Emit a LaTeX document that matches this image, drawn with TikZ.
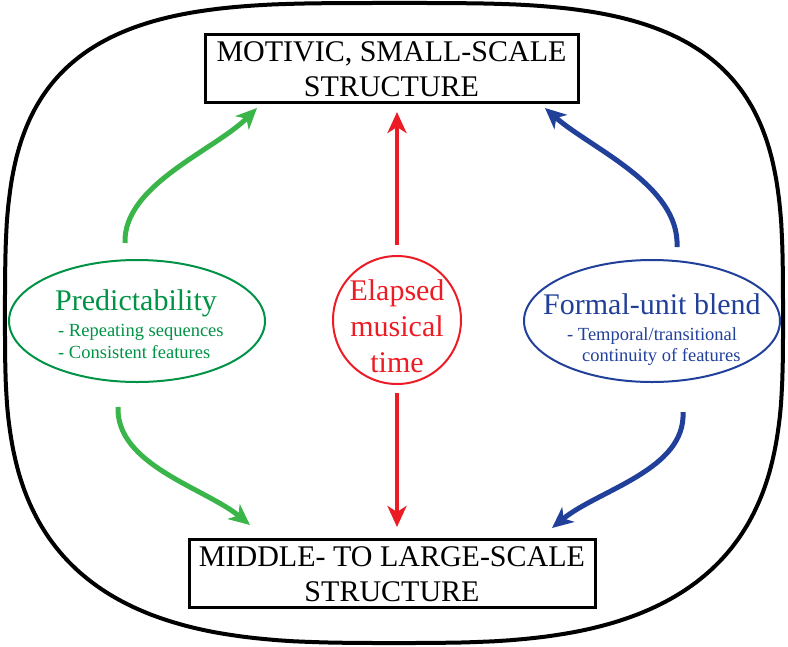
\documentclass[tikz,border=0pt]{standalone}
\usepackage{fontspec}
\setmainfont{Liberation Serif}
\usetikzlibrary{arrows.meta,shapes.geometric}
\definecolor{garrow}{RGB}{57,181,74}
\definecolor{gtext}{RGB}{0,146,69}
\definecolor{rcol}{RGB}{237,28,36}
\definecolor{bcol}{RGB}{33,64,154}
\tikzset{
  outerline/.style={line width=4pt, black},
  boxnode/.style={draw=black, line width=3pt, rectangle, inner sep=0pt},
  boxtext/.style={font=\fontsize{30}{30}\selectfont, anchor=base, inner sep=0pt},
  bigtext/.style={font=\fontsize{30}{30}\selectfont, inner sep=0pt},
  smalltext/.style={font=\fontsize{18.5}{18.5}\selectfont, inner sep=0pt, anchor=base west},
  tipstyle/.style={-{Stealth[length=21pt,width=19pt,inset=6pt]}},
  garr/.style={tipstyle, draw=garrow, line width=5pt},
  barr/.style={tipstyle, draw=bcol, line width=5pt},
  rarr/.style={tipstyle, draw=rcol, line width=4.5pt},
}
\begin{document}
\begin{tikzpicture}[x=1pt,y=-1pt]
\useasboundingbox (0,0) rectangle (788,646);
% outer rounded frame (superellipse)
\def\pt{0.5714}
\def\pb{0.6667}
\draw[outerline]
  plot[domain=0.2:89.8, samples=90] ({394-389*pow(cos(\x),\pt)}, {323-320*pow(sin(\x),\pt)})
  -- plot[domain=0.2:89.8, samples=90] ({394+389*pow(sin(\x),\pt)}, {323-320*pow(cos(\x),\pt)})
  -- plot[domain=0.2:89.8, samples=90] ({394+389*pow(cos(\x),\pb)}, {323+320*pow(sin(\x),\pb)})
  -- plot[domain=0.2:89.8, samples=90] ({394-389*pow(sin(\x),\pb)}, {323+320*pow(cos(\x),\pb)})
  -- cycle;

% boxes
\node[boxnode, minimum width=373pt, minimum height=68pt] (topbox) at (391.5,68) {};
\node[boxtext] (toplineA) at (391.5,61) {MOTIVIC, SMALL-SCALE};
\node[boxtext] (toplineB) at (391.5,96) {STRUCTURE};

\node[boxnode, minimum width=406pt, minimum height=68pt] (botbox) at (392,573) {};
\node[boxtext] (botlineA) at (392,566) {MIDDLE- TO LARGE-SCALE};
\node[boxtext] (botlineB) at (392,601) {STRUCTURE};

% ellipses and circle
\node[draw=gtext, line width=2pt, ellipse, minimum width=256pt, minimum height=122pt, inner sep=0pt] (pred) at (137,321) {};
\node[bigtext, text=gtext, anchor=base west] (predA) at (55,310) {Predictability};
\node[smalltext, text=gtext] (predB) at (58,336) {- Repeating sequences};
\node[smalltext, text=gtext] (predC) at (58,358) {- Consistent features};

\node[draw=rcol, line width=2pt, circle, minimum size=128pt, inner sep=0pt] (time) at (397,320) {};
\node[bigtext, text=rcol, anchor=base] (timeA) at (397,300) {Elapsed};
\node[bigtext, text=rcol, anchor=base] (timeB) at (397,336) {musical};
\node[bigtext, text=rcol, anchor=base] (timeC) at (397,372) {time};

\node[draw=bcol, line width=2pt, ellipse, minimum width=256pt, minimum height=122pt, inner sep=0pt] (blend) at (652,321) {};
\node[bigtext, text=bcol, anchor=base west] (blendA) at (543,314) {Formal-unit blend};
\node[smalltext, text=bcol] (blendB) at (567,340) {- Temporal/transitional};
\node[smalltext, text=bcol] (blendC) at (582,361) {continuity of features};

% connector end points
\coordinate (ga1) at (125,243);
\coordinate (ga2) at (257,108);
\coordinate (gb1) at (118,407);
\coordinate (gb2) at (250,525);
\coordinate (ba1) at (677,247);
\coordinate (ba2) at (545,108);
\coordinate (bb1) at (683,412);
\coordinate (bb2) at (552,528);
\coordinate (ra1) at (397,245);
\coordinate (ra2) at (397,112);
\coordinate (rb1) at (397,393);
\coordinate (rb2) at (397,527);

\draw[garr] (ga1) .. controls (123,185) and (215,150) .. (ga2);
\draw[garr] (gb1) .. controls (116,465) and (205,488) .. (gb2);
\draw[barr] (ba1) .. controls (680,185) and (590,148) .. (ba2);
\draw[barr] (bb1) .. controls (686,470) and (598,490) .. (bb2);
\draw[rarr] (ra1) -- (ra2);
\draw[rarr] (rb1) -- (rb2);
\end{tikzpicture}
\end{document}
